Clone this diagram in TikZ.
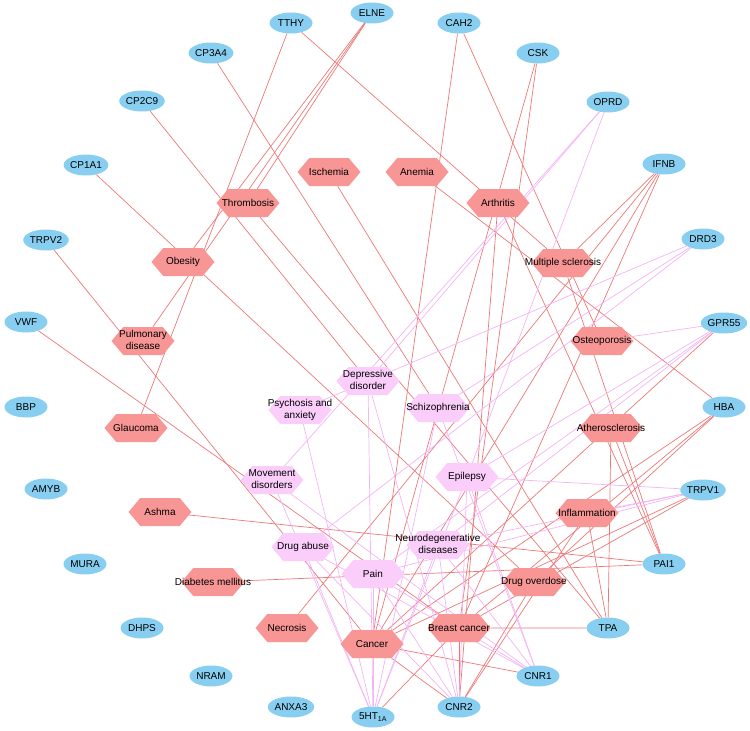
\documentclass[tikz,border=0pt]{standalone}
\usepackage{fontspec}
\setmainfont{Liberation Sans}
\usetikzlibrary{backgrounds,shapes.symbols,shapes.geometric}
\definecolor{tgt}{RGB}{135,206,240}
\definecolor{dis}{RGB}{248,150,150}
\definecolor{cns}{RGB}{250,205,250}
\definecolor{ecs}{RGB}{236,120,120}
\definecolor{ecp}{RGB}{244,180,244}
\newcommand{\hl}[1]{\makebox[0pt]{#1}}
\newcommand{\hll}[2]{\makebox[0pt]{\begin{tabular}{@{}c@{}}#1\\#2\end{tabular}}}
\begin{document}
\begin{tikzpicture}[x=1pt,y=-1pt,
 tg/.style={ellipse, fill=tgt, minimum width=43pt, minimum height=21pt, inner sep=0pt, font=\fontsize{10}{12}\selectfont},
 hx/.style={signal, signal to=east and west, signal pointer angle=100, minimum width=63pt, minimum height=28pt, inner sep=0pt, font=\fontsize{10}{12}\selectfont},
 hs/.style={hx, fill=dis},
 hp/.style={hx, fill=cns},
 se/.style={draw=ecs, line width=0.7pt},
 pe/.style={draw=ecp, line width=0.7pt}]
\useasboundingbox (0,0) rectangle (750,731);
% targets
\node[tg] (tthy) at (291,23) {TTHY};
\node[tg] (elne) at (372,13) {ELNE};
\node[tg] (cah2) at (459,23) {CAH2};
\node[tg] (csk) at (538,53) {CSK};
\node[tg] (cp3a4) at (211,53) {CP3A4};
\node[tg] (cp2c9) at (142,101) {CP2C9};
\node[tg] (oprd) at (608,102) {OPRD};
\node[tg] (cp1a1) at (86,165) {CP1A1};
\node[tg] (ifnb) at (664,164) {IFNB};
\node[tg] (trpv2) at (46,240) {TRPV2};
\node[tg] (drd3) at (703,239) {DRD3};
\node[tg] (vwf) at (26,322) {VWF};
\node[tg] (gpr55) at (724,323) {GPR55};
\node[tg] (bbp) at (26,407) {BBP};
\node[tg] (hba) at (724,407) {HBA};
\node[tg] (amyb) at (46,489) {AMYB};
\node[tg] (trpv1) at (703,490) {TRPV1};
\node[tg] (mura) at (85,564) {MURA};
\node[tg] (pai1) at (664,564) {PAI1};
\node[tg] (dhps) at (142,628) {DHPS};
\node[tg] (tpa) at (608,628) {TPA};
\node[tg] (nram) at (211,676) {NRAM};
\node[tg] (cnr1) at (538,676) {CNR1};
\node[tg] (anxa3) at (291,707) {ANXA3};
\node[tg] (sht) at (373,717) {5HT\textsubscript{1A}};
\node[tg] (cnr2) at (459,707) {CNR2};
% salmon diseases
\node[hs] (thromb) at (248,203) {\hl{Thrombosis}};
\node[hs] (isch) at (329,172) {\hl{Ischemia}};
\node[hs] (anem) at (417,172) {\hl{Anemia}};
\node[hs] (arth) at (498,203) {\hl{Arthritis}};
\node[hs] (obes) at (183,262) {\hl{Obesity}};
\node[hs] (ms) at (563,263) {\hl{Multiple sclerosis}};
\node[hs] (pulm) at (143,341) {\hll{Pulmonary}{disease}};
\node[hs] (osteo) at (602,341) {\hl{Osteoporosis}};
\node[hs] (glau) at (136,428) {\hl{Glaucoma}};
\node[hs] (ather) at (611,428) {\hl{Atherosclerosis}};
\node[hs] (ashma) at (160,512) {\hl{Ashma}};
\node[hs] (infl) at (587,513) {\hl{Inflammation}};
\node[hs] (diab) at (213,582) {\hl{Diabetes mellitus}};
\node[hs] (drugod) at (534,582) {\hl{Drug overdose}};
\node[hs] (necro) at (287,628) {\hl{Necrosis}};
\node[hs] (bc) at (459,628) {\hl{Breast cancer}};
\node[hs] (cancer) at (372,644) {\hl{Cancer}};
% pink diseases
\node[hp] (depr) at (368,381) {\hll{Depressive}{disorder}};
\node[hp] (psych) at (300,410) {\hll{Psychosis and}{anxiety}};
\node[hp] (schizo) at (438,408) {\hl{Schizophrenia}};
\node[hp] (move) at (272,480) {\hll{Movement}{disorders}};
\node[hp] (epil) at (467,477) {\hl{Epilepsy}};
\node[hp] (abuse) at (303,547) {\hl{Drug abuse}};
\node[hp] (neuro) at (438,545) {\hll{Neurodegenerative}{diseases}};
\node[hp] (pain) at (373,574) {\hl{Pain}};
\begin{pgfonlayer}{background}
\foreach \a/\b in {tthy/glau, tthy/ms, elne/obes, elne/pulm, elne/thromb, cp3a4/schizo, cp2c9/depr, cp1a1/drugod, cah2/cancer, cah2/osteo, csk/cancer, csk/bc, ifnb/ms, ifnb/necro, ifnb/cancer, ifnb/bc, trpv2/cancer, vwf/bc, anem/hba, isch/tpa, ather/pai1, ather/tpa, ms/pai1, arth/pai1, infl/tpa, thromb/tpa, ashma/pai1, diab/pai1, arth/cnr2, trpv1/cancer, trpv1/bc, hba/cancer, hba/bc, hba/drugod, gpr55/cancer, bc/tpa, cnr1/cancer, cnr2/cancer, cnr2/bc, cnr2/drugod, cnr2/infl, sht/bc}
  \draw[se] (\a) -- (\b);
\foreach \a/\b in {oprd/depr, oprd/move, oprd/epil, drd3/schizo, drd3/psych, drd3/abuse, gpr55/osteo, gpr55/epil, gpr55/pain, gpr55/neuro, trpv1/epil, trpv1/infl, trpv1/pain, trpv1/neuro, cnr1/pain, cnr1/epil, cnr1/schizo, cnr1/abuse, cnr1/neuro, cnr1/move, cnr2/pain, cnr2/depr, cnr2/neuro, cnr2/epil, cnr2/abuse, sht/abuse, sht/pain, sht/psych, sht/depr, sht/move, sht/neuro, sht/epil, sht/schizo}
  \draw[pe] (\a) -- (\b);
\end{pgfonlayer}
\end{tikzpicture}
\end{document}
